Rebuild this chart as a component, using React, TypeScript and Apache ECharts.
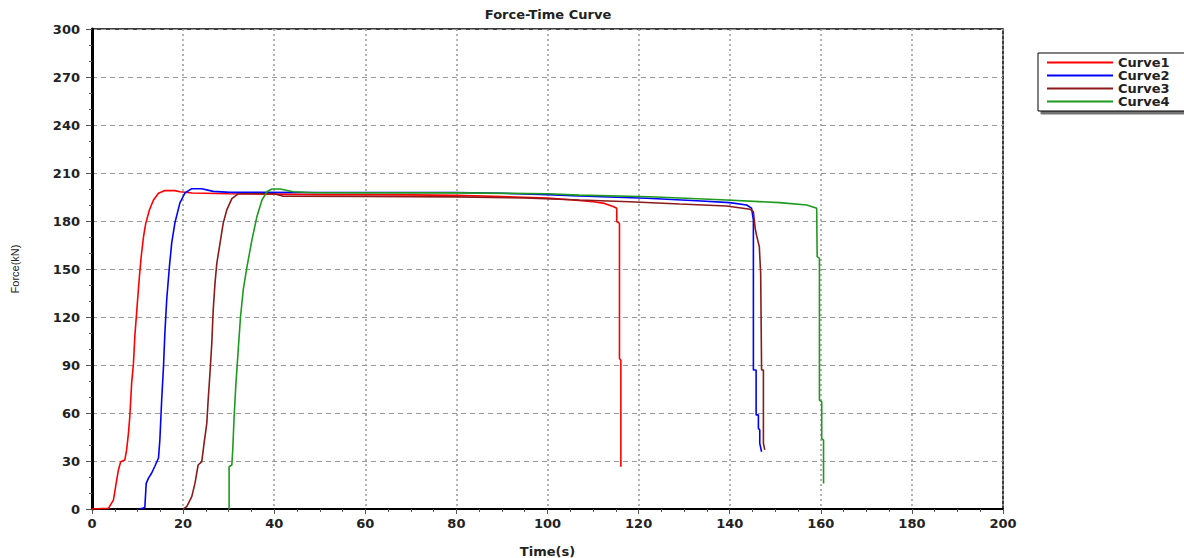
import React, { useEffect, useRef } from "react";
import * as echarts from "echarts";

const seriesNames = ["Curve1", "Curve2", "Curve3", "Curve4"];
const seriesColors = ["#ff0000", "#0000ff", "#8b1a1a", "#1e9a1e"];

const curve1Time = [0, 3.6, 4.7, 5.3, 5.8, 6.3, 7.2, 7.6, 8.0, 8.3, 8.7, 9.1, 9.4, 9.95, 10.4, 10.8, 11.3, 11.8, 12.6, 13.5, 14.6, 16.0, 18.2, 19.3, 22, 30, 40, 50, 60, 70, 80, 90, 100, 105, 110, 112.5, 114.4, 115.2, 115.2, 115.8, 115.8, 116.1, 116.1];
const curve1Force = [0, 0.4, 5.6, 16, 24.4, 29.6, 30.6, 36.9, 47.3, 57.7, 78.5, 91, 107.7, 128.5, 145, 157.7, 170, 178.5, 186.9, 193.1, 197.3, 199, 199, 198.3, 197.5, 197, 196.8, 196.5, 196.5, 196.3, 196, 195.3, 194.3, 193.3, 192, 191, 189, 188, 179.6, 178.5, 94, 93, 26.4];

const curve2Time = [10.5, 11.6, 11.9, 12.4, 13.1, 13.8, 14.6, 14.9, 15.3, 15.7, 16.0, 16.4, 17.0, 17.5, 18.2, 19.3, 20.4, 21.9, 24.1, 26.6, 30.3, 50, 80, 90, 100, 107, 121.8, 132.8, 140, 143.7, 144.8, 145.2, 145.2, 145.8, 145.8, 146.3, 146.3, 146.6, 146.6, 147.0];
const curve2Force = [0, 1, 16, 19.3, 22.5, 26.7, 31.9, 43.3, 68.3, 89.2, 110, 130.8, 151.7, 166.3, 178.8, 191.3, 197.5, 200.2, 200.2, 198.5, 197.9, 197.8, 197.8, 197.3, 196.5, 195.6, 194.2, 192.7, 191.5, 190, 188, 180.6, 86.9, 86.9, 58.8, 58.8, 50.4, 49.4, 41, 35.8];

const curve3Time = [20.0, 20.8, 21.9, 22.6, 23.3, 24.1, 24.6, 25.2, 25.5, 25.9, 26.3, 26.6, 27.0, 27.4, 28.1, 28.8, 29.6, 30.7, 32.1, 40, 42, 60, 80, 95, 107, 118, 129, 139.3, 144.5, 145.2, 145.6, 145.9, 146.5, 146.8, 147.0, 147.4, 147.4, 147.7];
const curve3Force = [0, 1.5, 7.7, 16, 27.5, 29.6, 41, 53.5, 68, 85, 103.6, 124, 141, 153.5, 166, 178.5, 187, 194, 197, 197, 195.5, 195.4, 195.1, 194.4, 193.1, 192, 190.6, 189.4, 187.3, 185.8, 175.4, 171, 164, 147, 86.9, 86.9, 41, 36.9];

const curve4Time = [30.1, 30.1, 30.7, 30.9, 31.2, 31.6, 32.1, 32.6, 33.2, 34.0, 35.1, 36.2, 37.3, 38.4, 39.5, 41.3, 44.2, 48.6, 80, 100, 107, 122.5, 139.3, 151, 156.9, 159.1, 159.2, 159.7, 159.7, 160.2, 160.2, 160.6, 160.6];
const curve4Force = [0, 26.4, 27.5, 37, 57.7, 78.5, 99.4, 120, 137, 151, 168, 182.7, 193, 198.3, 200, 200, 198.3, 197.7, 197.6, 197, 196.2, 195.2, 193.1, 191.5, 190, 188, 157.7, 156.7, 68, 67, 44, 43, 16];

const curveTimes = [curve1Time, curve2Time, curve3Time, curve4Time];
const curveForces = [curve1Force, curve2Force, curve3Force, curve4Force];

const chartTitle = "Force-Time Curve";
const xName = "Time(s)";
const yName = "Force(kN)";

export default function App() {
  const ref = useRef<HTMLDivElement>(null);
  useEffect(() => {
    if (!ref.current) return;
    const chart = echarts.init(ref.current, undefined, { renderer: "svg" });
    const labelFont = {
      fontFamily: "DejaVu Sans",
      fontSize: 13,
      fontWeight: "bold" as const,
      color: "#222",
    };
    const series = seriesNames.map((name, i) => ({
      name,
      type: "line",
      showSymbol: false,
      symbol: "none",
      data: curveTimes[i].map((t, j) => [t, curveForces[i][j]]),
      lineStyle: { color: seriesColors[i], width: 1.6 },
      itemStyle: { color: seriesColors[i] },
    }));
    chart.setOption({
      animation: false,
      backgroundColor: "#fff",
      title: {
        text: chartTitle,
        left: 548,
        top: 8,
        padding: 0,
        textAlign: "center",
        textStyle: { ...labelFont, fontSize: 13 },
      },
      graphic: [
        {
          type: "rect",
          z: 0,
          zlevel: 0,
          shape: { x: 1038, y: 53, width: 170, height: 58 },
          style: {
            fill: "#fff",
            stroke: "#000",
            lineWidth: 1,
            shadowColor: "rgba(0,0,0,0.55)",
            shadowBlur: 1,
            shadowOffsetX: 3,
            shadowOffsetY: 3,
          },
        },
      ],
      legend: {
        orient: "vertical",
        left: 1047,
        top: 56,
        padding: 0,
        itemGap: 0,
        itemWidth: 66,
        itemHeight: 2,
        icon: "rect",
        z: 10,
        data: seriesNames,
        textStyle: { ...labelFont, lineHeight: 13 },
      },
      grid: {
        left: 92,
        top: 29,
        right: 181,
        bottom: 49,
        outerBoundsMode: "none",
        containLabel: false,
        show: true,
        borderColor: "#000",
        borderWidth: 1.5,
        backgroundColor: "transparent",
      },
      xAxis: {
        type: "value",
        min: 0,
        max: 200,
        interval: 20,
        name: xName,
        nameLocation: "middle",
        nameGap: 36,
        nameTextStyle: { ...labelFont },
        axisLine: { show: true, onZero: false, lineStyle: { color: "#000", width: 2 } },
        axisTick: { show: true, length: 5, lineStyle: { color: "#555" } },
        minorTick: { show: true, splitNumber: 4, length: 3, lineStyle: { color: "#555" } },
        axisLabel: { ...labelFont, margin: 8 },
        splitLine: { show: true, lineStyle: { color: "#999", width: 1.5, type: [2, 3] } },
      },
      yAxis: {
        type: "value",
        min: 0,
        max: 300,
        interval: 30,
        name: yName,
        nameLocation: "middle",
        nameGap: 72,
        nameRotate: 90,
        nameTextStyle: { fontFamily: "Liberation Sans", fontSize: 11, color: "#222" },
        axisLine: { show: true, onZero: false, lineStyle: { color: "#000", width: 3 } },
        axisTick: { show: true, length: 6, lineStyle: { color: "#555" } },
        minorTick: { show: true, splitNumber: 3, length: 3, lineStyle: { color: "#555" } },
        axisLabel: { ...labelFont, margin: 12 },
        splitLine: { show: true, lineStyle: { color: "#999", width: 1, type: [5, 4] } },
      },
      series,
    });
    return () => chart.dispose();
  }, []);
  return (
    <div
      ref={ref}
      style={{ position: "absolute", left: 0, top: 0, width: 1184, height: 558 }}
    />
  );
}
